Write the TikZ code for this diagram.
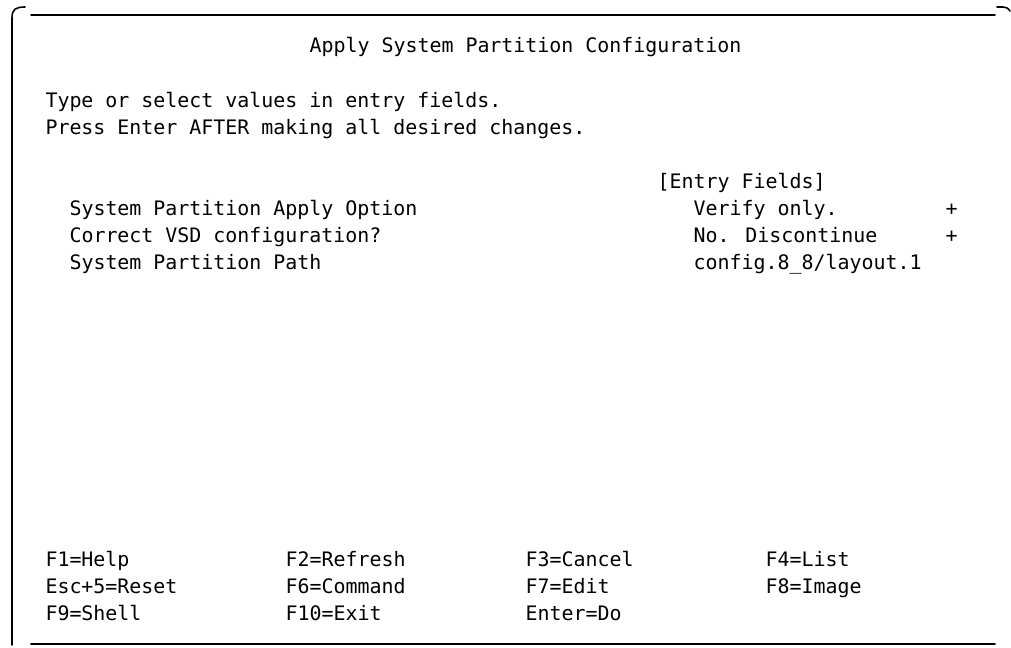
\documentclass[tikz,border=0pt]{standalone}
\usepackage{fontspec}
\newfontfamily\scrfont{DejaVu Sans Mono}
\begin{document}
\begin{tikzpicture}[x=0.75pt,y=-0.75pt]
\tikzset{
  scr/.style={anchor=base west, inner sep=0pt, outer sep=0pt,
              font=\scrfont\fontsize{14.95pt}{18pt}\selectfont},
  frameline/.style={line width=1.2pt, line cap=round}
}
% page area
\useasboundingbox[fill=white] (0,0) rectangle (1011,647);

% screen frame
\draw[frameline] (12,645) -- (12,18) .. controls (12,9) and (16,7) .. (25,7);
\draw[frameline] (31,15) -- (995,15);
\draw[frameline] (997,7) -- (1003,7) .. controls (1006,7) and (1008,8) .. (1010,11);
\draw[frameline] (31,644) -- (995,644);

% character cell grid: column c -> x = 45.5 + 12c, row k -> baseline 107 + 27.05k
\node[scr] (title) at ({45.5+22*12},{107-2*27.05}) {Apply System Partition Configuration};
\node[scr] (hint1) at (45.5,107) {Type or select values in entry fields.};
\node[scr] (hint2) at (45.5,{107+27.05}) {Press Enter AFTER making all desired changes.};

\node[scr] (entryhdr) at ({45.5+51*12},{107+3*27.05}) {[Entry Fields]};

\node[scr] (lblapply) at ({45.5+2*12},{107+4*27.05}) {System Partition Apply Option};
\node[scr] (valapply) at ({45.5+54*12},{107+4*27.05}) {Verify only.};
\node[scr] (plusapply) at ({45.5+75*12},{107+4*27.05}) {+};

\node[scr] (lblvsd) at ({45.5+2*12},{107+5*27.05}) {Correct VSD configuration?};
\node[scr] (valvsd) at ({45.5+54*12},{107+5*27.05}) {No. Discontinue};
\node[scr] (plusvsd) at ({45.5+75*12},{107+5*27.05}) {+};

\node[scr] (lblpath) at ({45.5+2*12},{107+6*27.05}) {System Partition Path};
\node[scr] (valpath) at ({45.5+54*12},{107+6*27.05}) {config.8\_8/layout.1};

% function key legend
\node[scr] (f1) at (45.5,{107+17*27.05}) {F1=Help};
\node[scr] (f2) at ({45.5+20*12},{107+17*27.05}) {F2=Refresh};
\node[scr] (f3) at ({45.5+40*12},{107+17*27.05}) {F3=Cancel};
\node[scr] (f4) at ({45.5+60*12},{107+17*27.05}) {F4=List};
\node[scr] (f5) at (45.5,{107+18*27.05}) {Esc+5=Reset};
\node[scr] (f6) at ({45.5+20*12},{107+18*27.05}) {F6=Command};
\node[scr] (f7) at ({45.5+40*12},{107+18*27.05}) {F7=Edit};
\node[scr] (f8) at ({45.5+60*12},{107+18*27.05}) {F8=Image};
\node[scr] (f9) at (45.5,{107+19*27.05}) {F9=Shell};
\node[scr] (f10) at ({45.5+20*12},{107+19*27.05}) {F10=Exit};
\node[scr] (fent) at ({45.5+40*12},{107+19*27.05}) {Enter=Do};
\end{tikzpicture}
\end{document}
